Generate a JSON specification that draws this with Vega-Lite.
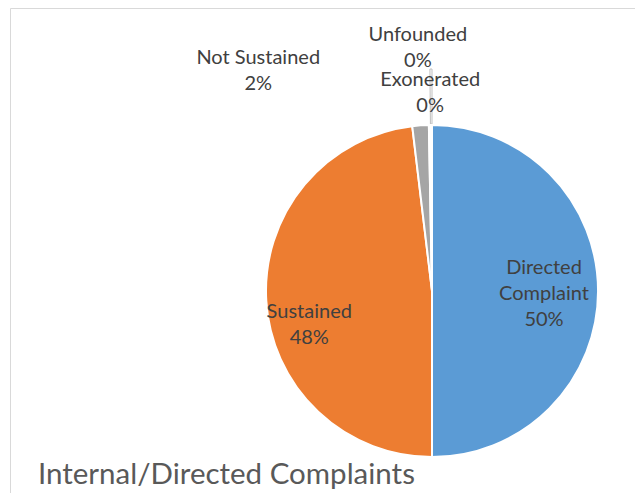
{
  "$schema": "https://vega.github.io/schema/vega-lite/v6.json",
  "width": 844,
  "height": 566,
  "autosize": {"type": "none"},
  "padding": {"left": 10, "top": 8, "right": 0, "bottom": 0},
  "background": "white",
  "view": {"stroke": "#d9d9d9", "strokeWidth": 1, "fill": "white"},
  "config": {"view": {"stroke": "#d9d9d9", "strokeWidth": 1}, "font": "Lato"},
  "title": {
    "text": "Internal/Directed Complaints",
    "orient": "top",
    "anchor": "start",
    "frame": "group",
    "offset": -505,
    "dx": 28,
    "baseline": "alphabetic",
    "fontSize": 29.5,
    "font": "Lato",
    "fontWeight": "normal",
    "color": "#595959"
  },
  "data": {
    "values": [
      {"category": "Directed Complaint", "value": 50, "order": 1, "label": "Directed\nComplaint\n50%"},
      {"category": "Sustained", "value": 48.1, "order": 2, "label": "Sustained\n48%"},
      {"category": "Not Sustained", "value": 1.6, "order": 3, "label": "Not Sustained\n2%"},
      {"category": "Exonerated", "value": 0.15, "order": 4, "label": "Exonerated\n0%"},
      {"category": "Unfounded", "value": 0.15, "order": 5, "label": "Unfounded\n0%"}
    ]
  },
  "encoding": {
    "theta": {"field": "value", "type": "quantitative", "stack": true},
    "order": {"field": "order", "type": "quantitative"}
  },
  "layer": [
    {
      "mark": {"type": "arc", "radius": 222, "radius2": 167, "fillOpacity": 0, "strokeWidth": 1},
      "encoding": {
        "stroke": {"condition": {"test": "datum.category === 'Unfounded'", "value": "#bfbfbf"}, "value": null}
      }
    },
    {
      "mark": {"type": "arc", "outerRadius": 166, "stroke": "white", "strokeWidth": 2},
      "encoding": {
        "color": {
          "field": "category",
          "type": "nominal",
          "scale": {
            "domain": ["Directed Complaint", "Sustained", "Not Sustained", "Exonerated", "Unfounded"],
            "range": ["#5B9BD5", "#ED7D31", "#A5A5A5", "#FFC000", "#4472C4"]
          },
          "legend": null
        }
      }
    },
    {
      "mark": {"type": "text", "radius": 105, "dx": 7, "dy": -23, "fontSize": 20, "lineHeight": 26, "lineBreak": "\n", "color": "#404040"},
      "encoding": {"text": {"condition": {"test": "datum.category === 'Directed Complaint'", "field": "label"}, "value": ""}}
    },
    {
      "mark": {"type": "text", "radius": 135, "dx": 12, "dy": 13, "fontSize": 20, "lineHeight": 26, "lineBreak": "\n", "color": "#404040"},
      "encoding": {"text": {"condition": {"test": "datum.category === 'Sustained'", "field": "label"}, "value": ""}}
    },
    {
      "mark": {"type": "text", "radius": 185, "dx": -161, "dy": -48, "fontSize": 20, "lineHeight": 26, "lineBreak": "\n", "color": "#404040"},
      "encoding": {"text": {"condition": {"test": "datum.category === 'Not Sustained'", "field": "label"}, "value": ""}}
    },
    {
      "mark": {"type": "text", "radius": 199, "dx": 1, "dy": -12, "fontSize": 20, "lineHeight": 26, "lineBreak": "\n", "color": "#404040"},
      "encoding": {"text": {"condition": {"test": "datum.category === 'Exonerated'", "field": "label"}, "value": ""}}
    },
    {
      "mark": {"type": "text", "radius": 244, "dx": -13, "dy": -12, "fontSize": 20, "lineHeight": 26, "lineBreak": "\n", "color": "#404040"},
      "encoding": {"text": {"condition": {"test": "datum.category === 'Unfounded'", "field": "label"}, "value": ""}}
    }
  ]
}
